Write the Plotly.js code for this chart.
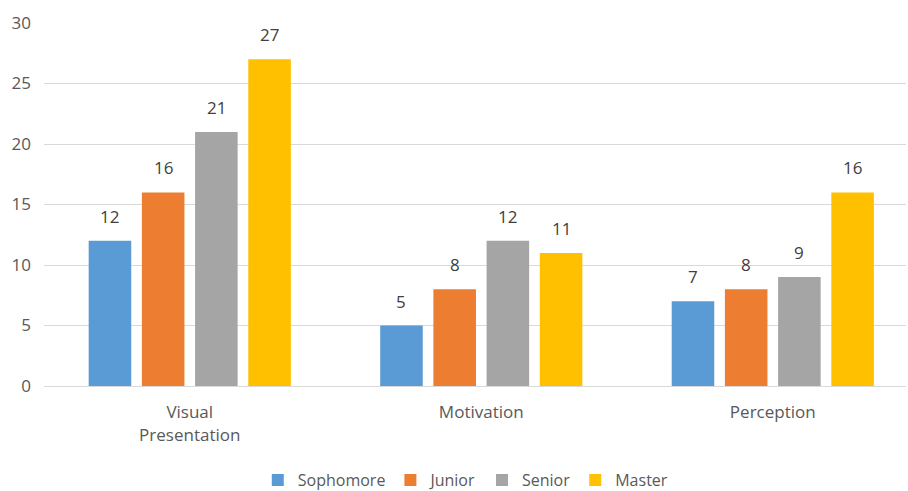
<!DOCTYPE html>
<html>
<head>
<meta charset="utf-8">
<script src="https://cdn.plot.ly/plotly-3.0.1.min.js"></script>
<style>
  html, body { margin: 0; padding: 0; background: #ffffff; }
  #chart { width: 908px; height: 491px; }
</style>
</head>
<body>
<div id="chart"></div>
<script>
// Survey categories and counts per student group
const categories = ['Visual<br>Presentation', 'Motivation', 'Perception'];
const seriesNames = ['Sophomore', 'Junior', 'Senior', 'Master'];
const sophomore = [12, 5, 7];
const junior = [16, 8, 8];
const senior = [21, 12, 9];
const master = [27, 11, 16];
const yTicks = [0, 5, 10, 15, 20, 25, 30];

const colors = ['#5B9BD5', '#ED7D31', '#A5A5A5', '#FFC000'];
const seriesValues = [sophomore, junior, senior, master];
const font = '"Open Sans", Lato, sans-serif';

// Plot geometry, used to place the value labels over each bar of a group
const W = 908, H = 491;
const margin = { l: 44, r: 2, t: 23, b: 105 };
const xRange = [-0.5, 2.457];
const bargap = 0.27;
const pxPerCategory = (W - margin.l - margin.r) / (xRange[1] - xRange[0]);
const barPitch = pxPerCategory * (1 - bargap) / seriesValues.length;

const traces = seriesValues.map((vals, i) => ({
  type: 'bar',
  name: seriesNames[i],
  x: categories,
  y: vals,
  marker: { color: colors[i] },
  hoverinfo: 'skip'
}));

const annotations = [];
seriesValues.forEach((vals, i) => {
  vals.forEach((v, j) => {
    annotations.push({
      x: categories[j],
      y: v,
      xref: 'x',
      yref: 'y',
      text: String(v),
      showarrow: false,
      xanchor: 'center',
      yanchor: 'bottom',
      xshift: (i - (seriesValues.length - 1) / 2) * barPitch,
      yshift: 11,
      font: { family: font, size: 17, color: '#404040' }
    });
  });
});

const layout = {
  width: W,
  height: H,
  margin: margin,
  paper_bgcolor: '#ffffff',
  plot_bgcolor: '#ffffff',
  font: { family: font, size: 17, color: '#595959' },
  barmode: 'group',
  bargap: bargap,
  bargroupgap: 0.2,
  showlegend: true,
  annotations: annotations,
  legend: {
    orientation: 'h',
    xref: 'container',
    yref: 'container',
    x: 0.513,
    xanchor: 'center',
    y: 0.022,
    yanchor: 'middle',
    font: { family: font, size: 16, color: '#595959' },
    itemwidth: 30,
    tracegroupgap: 0
  },
  xaxis: {
    type: 'category',
    range: xRange,
    showgrid: false,
    showline: true,
    linecolor: '#D9D9D9',
    linewidth: 1,
    ticks: '',
    ticklabelstandoff: 11,
    automargin: false,
    tickfont: { family: font, size: 17, color: '#595959' },
    fixedrange: true
  },
  yaxis: {
    range: [0, 30],
    tickvals: yTicks,
    ticktext: yTicks.map(String),
    showgrid: true,
    gridcolor: '#D9D9D9',
    gridwidth: 1,
    zeroline: true,
    zerolinecolor: '#D9D9D9',
    showline: false,
    ticks: '',
    ticklabelstandoff: 12,
    automargin: false,
    tickfont: { family: font, size: 17, color: '#595959' },
    fixedrange: true
  }
};

Plotly.newPlot('chart', traces, layout, { displayModeBar: false, staticPlot: true });
</script>
</body>
</html>
